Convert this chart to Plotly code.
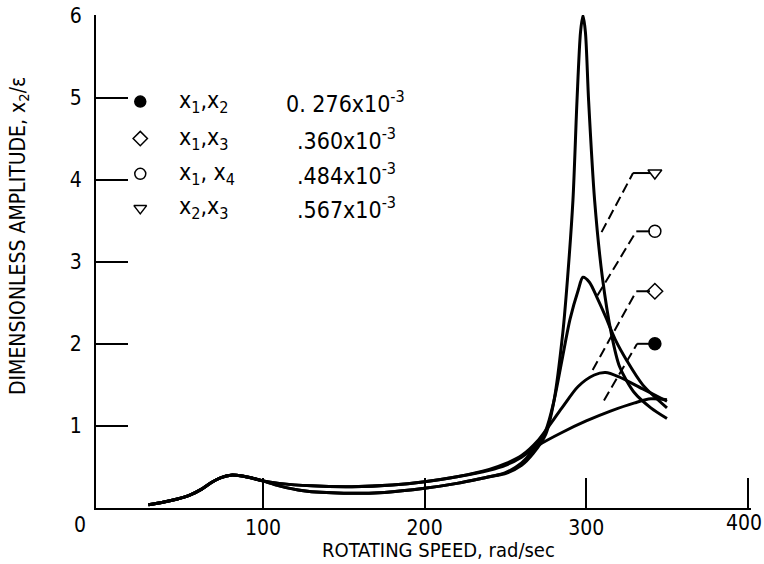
import plotly.graph_objects as go

# ---- data ----
low_x = [29, 38, 47, 55, 62, 68, 74, 80, 87, 94, 100]
low_y = [0.04, 0.07, 0.11, 0.16, 0.23, 0.31, 0.37, 0.40, 0.39, 0.36, 0.33]

c1_x = low_x + [110, 130, 155, 180, 200, 220, 240, 250, 260, 270, 285, 300, 315, 330, 340, 350]
c1_y = low_y + [0.30, 0.27, 0.26, 0.28, 0.32, 0.38, 0.46, 0.52, 0.62, 0.76, 0.92, 1.06, 1.18, 1.28, 1.33, 1.32]

c2_x = low_x + [110, 130, 155, 180, 200, 220, 240, 250, 260, 270, 285, 295, 305, 312, 320, 335, 350]
c2_y = low_y + [0.30, 0.27, 0.26, 0.28, 0.32, 0.38, 0.47, 0.54, 0.64, 0.82, 1.22, 1.48, 1.62, 1.65, 1.6, 1.45, 1.3]

c3_x = low_x + [110, 125, 150, 175, 200, 220, 240, 250, 260, 267, 275, 280, 285, 290, 295, 298, 302, 307, 312, 318, 325, 335, 350]
c3_y = low_y + [0.27, 0.21, 0.18, 0.19, 0.24, 0.30, 0.38, 0.43, 0.55, 0.70, 0.95, 1.3, 1.8, 2.3, 2.65, 2.81, 2.75, 2.55, 2.33, 2.05, 1.8, 1.5, 1.22]

c4_x = low_x + [110, 125, 150, 175, 200, 220, 240, 250, 260, 267, 275, 280, 285.5, 288.5, 291.8, 294.3, 296.5, 298, 299.5, 301.5, 305.2, 310, 315.5, 320.7, 330, 340, 350]
c4_y = low_y + [0.27, 0.21, 0.18, 0.19, 0.24, 0.30, 0.38, 0.42, 0.52, 0.66, 0.90, 1.3, 2.13, 2.81, 3.75, 4.96, 5.8, 6.0, 5.8, 4.96, 3.75, 2.81, 2.13, 1.72, 1.4, 1.22, 1.09]

curves_x = [c1_x, c2_x, c3_x, c4_x]
curves_y = [c1_y, c2_y, c3_y, c4_y]

# right-hand markers and leader lines (marker, elbow, end on curve)
mk_symbols = ["circle", "diamond-open", "circle-open", "triangle-down-open"]
mk_x = [342.5, 342.5, 342.5, 342.5]
mk_y = [2.0, 2.64, 3.37, 4.08]
elbow_x = [331.5, 331, 331, 329]
end_x = [311, 304, 307, 309.5]
end_y = [1.31, 1.68, 2.59, 3.36]

leg_pairs = ["x<sub>1</sub>,x<sub>2</sub>", "x<sub>1</sub>,x<sub>3</sub>", "x<sub>1</sub>, x<sub>4</sub>", "x<sub>2</sub>,x<sub>3</sub>"]
leg_values = ["0. 276x10<sup>-3</sup>", ".360x10<sup>-3</sup>", ".484x10<sup>-3</sup>", ".567x10<sup>-3</sup>"]
leg_rows_y = [4.95, 4.5, 4.07, 3.65]

x_ticks = [100, 200, 300, 400]
x_ticktext = ["100", "200", "300", ""]
y_ticks = [1, 2, 3, 4, 5, 6]

FONT = "DejaVu Sans Condensed, Liberation Sans Narrow, Liberation Sans, sans-serif"
L, R, T, B = 96, 13, 15, 56
W, H = 764, 564
PW, PH = W - L - R, H - T - B

fig = go.Figure()
for cx, cy in zip(curves_x, curves_y):
    fig.add_trace(go.Scatter(x=cx, y=cy, mode="lines",
                             line=dict(color="black", width=3, shape="spline", smoothing=0.8),
                             showlegend=False, hoverinfo="skip"))

for i in range(4):
    fig.add_trace(go.Scatter(x=[elbow_x[i], mk_x[i] - 3], y=[mk_y[i], mk_y[i]], mode="lines",
                             line=dict(color="black", width=2), showlegend=False, hoverinfo="skip"))
    fig.add_trace(go.Scatter(x=[end_x[i], elbow_x[i]], y=[end_y[i], mk_y[i]], mode="lines",
                             line=dict(color="black", width=2, dash="10px,5px"), showlegend=False,
                             hoverinfo="skip"))
    fig.add_trace(go.Scatter(x=[mk_x[i]], y=[mk_y[i]], mode="markers",
                             marker=dict(symbol=mk_symbols[i], size=12, color="black",
                                         line=dict(color="black", width=1.5)),
                             showlegend=False, hoverinfo="skip"))

leg_sym_x = 24
for i in range(4):
    fig.add_trace(go.Scatter(x=[leg_sym_x], y=[leg_rows_y[i]], mode="markers",
                             marker=dict(symbol=mk_symbols[i], size=11, color="black",
                                         line=dict(color="black", width=1.5)),
                             showlegend=False, hoverinfo="skip"))
    fig.add_annotation(x=47, y=leg_rows_y[i], text=leg_pairs[i], showarrow=False,
                       xanchor="left", yanchor="middle", font=dict(size=23, family=FONT, color="black"))
    fig.add_annotation(x=120 if i else 113, y=leg_rows_y[i], text=leg_values[i], showarrow=False,
                       xanchor="left", yanchor="middle", font=dict(size=23, family=FONT, color="black"))

def px(xp):
    return (xp - L) / PW

def py(yp):
    return (H - B - yp) / PH

# last x tick label sits slightly left of its tick in the reference
fig.add_annotation(x=397.5, y=py(523), xref="x", yref="paper", text="400", showarrow=False,
                   xanchor="center", yanchor="middle", font=dict(size=21, family=FONT, color="black"))
fig.add_annotation(x=px(80), y=py(525), xref="paper", yref="paper", text="0", showarrow=False,
                   xanchor="center", yanchor="middle", font=dict(size=21, family=FONT, color="black"))
fig.add_annotation(x=px(438), y=py(550), xref="paper", yref="paper", text="ROTATING SPEED, rad/sec",
                   showarrow=False, xanchor="center", yanchor="middle",
                   font=dict(size=20, family=FONT, color="black"))
fig.add_annotation(x=px(19), y=py(236), xref="paper", yref="paper",
                   text="DIMENSIONLESS AMPLITUDE, x<sub>2</sub>/ε", textangle=-90,
                   showarrow=False, xanchor="center", yanchor="middle",
                   font=dict(size=21, family=FONT, color="black"))

fig.update_layout(
    width=W, height=H,
    margin=dict(l=L, r=R, t=T, b=B, autoexpand=False),
    paper_bgcolor="white", plot_bgcolor="white",
    font=dict(family=FONT, color="black", size=21),
    xaxis=dict(range=[-3.4, 402], tickvals=x_ticks, ticktext=x_ticktext, ticks="inside", ticklen=30,
               tickwidth=1.5, tickcolor="black", showline=True, linecolor="black", linewidth=2,
               showgrid=False, zeroline=False, tickfont=dict(size=21), automargin=False),
    yaxis=dict(range=[0, 6.005], tickvals=y_ticks, ticks="inside", ticklen=32, tickwidth=1.5,
               tickcolor="black", showline=True, linecolor="black", linewidth=2, showgrid=False,
               zeroline=False, tickfont=dict(size=21), ticklabelstandoff=8, automargin=False),
)

fig.write_html("out.html", config={"displayModeBar": False},
               post_script="document.body.style.margin='0px';")
